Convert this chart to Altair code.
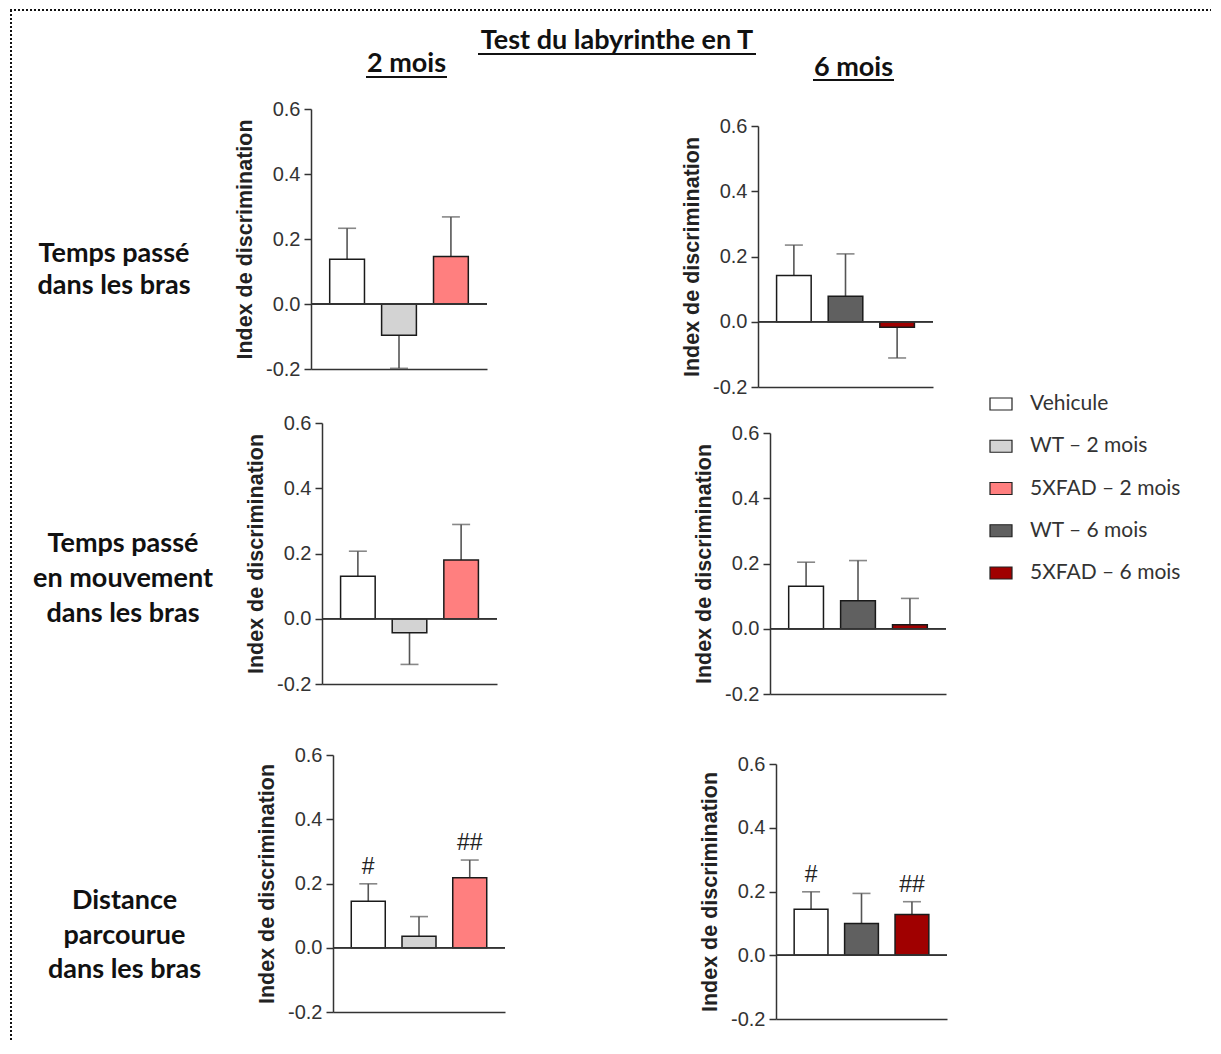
import altair as alt
import pandas as pd

# ---------------- data ----------------
groups_2m = ["Vehicule", "WT – 2 mois", "5XFAD – 2 mois"]
groups_6m = ["Vehicule", "WT – 6 mois", "5XFAD – 6 mois"]
colors_2m = ["#ffffff", "#d3d3d3", "#ff7f7f"]
colors_6m = ["#ffffff", "#606060", "#a00000"]

temps_2m = [0.138, -0.096, 0.146]
temps_2m_sem = [0.095, 0.102, 0.122]
temps_6m = [0.142, 0.078, -0.017]
temps_6m_sem = [0.093, 0.130, 0.094]

mouv_2m = [0.130, -0.043, 0.180]
mouv_2m_sem = [0.077, 0.097, 0.109]
mouv_6m = [0.130, 0.086, 0.012]
mouv_6m_sem = [0.074, 0.123, 0.081]

dist_2m = [0.145, 0.036, 0.218]
dist_2m_sem = [0.054, 0.061, 0.055]
dist_6m = [0.144, 0.100, 0.128]
dist_6m_sem = [0.055, 0.094, 0.040]

no_sig = ["", "", ""]
dist_2m_sig = ["#", "", "##"]
dist_6m_sig = ["#", "", "##"]

y_ticks = [-0.2, 0.0, 0.2, 0.4, 0.6]
y_title = "Index de discrimination"
main_title = "Test du labyrinthe en T"
col_titles = ["2 mois", "6 mois"]
row_titles = [
    ["Temps passé", "dans les bras"],
    ["Temps passé", "en mouvement", "dans les bras"],
    ["Distance", "parcourue", "dans les bras"],
]
legend_labels = ["Vehicule", "WT – 2 mois", "5XFAD – 2 mois", "WT – 6 mois", "5XFAD – 6 mois"]
legend_colors = ["#ffffff", "#d3d3d3", "#ff7f7f", "#606060", "#a00000"]

# ---------------- style / layout ----------------
AX = "#333333"
ERR = "#555555"
HEAD_FONT = "Lato"
AXIS_FONT = "Liberation Sans"
W, H = 1205, 1034
one = pd.DataFrame({"k": [0]})

# panel plot rectangles (content coords): x, y(top), w, h
P = {
    1: (303, 101, 176, 260),
    2: (750, 118, 175, 261),
    3: (314, 415, 175, 261),
    4: (762, 425, 176, 261),
    5: (325, 747, 172, 257),
    6: (768, 756, 171, 255),
}


def panel(groups, vals, sems, colors, sig, rect):
    x0, yt, w, h = rect
    yb = yt + h
    df = pd.DataFrame({"group": groups, "value": vals, "sem": sems, "color": colors, "sig": sig})
    base = alt.Chart(df).transform_calculate(
        end="datum.value + (datum.value < 0 ? -datum.sem : datum.sem)"
    )
    x = alt.X(
        "group:N",
        sort=groups,
        scale=alt.Scale(range=[x0, x0 + w], paddingInner=0.33, paddingOuter=0.36),
        axis=alt.Axis(orient="bottom", offset=-(H - yb), labels=False, ticks=False,
                      title=None, domainColor=AX, domainWidth=1.5, grid=False),
    )
    ys = alt.Scale(domain=[-0.2, 0.6], range=[yb, yt], nice=False, zero=False)
    ya = alt.Axis(
        orient="left", offset=-x0,
        values=y_ticks,
        labelExpr="datum.value < 0 ? '-' + format(-datum.value, '.1f') : format(datum.value, '.1f')",
        title=y_title,
        titleFont=AXIS_FONT, titleFontSize=21.5, titleFontWeight="bold", titleColor="#222222",
        titlePadding=9,
        labelFont=AXIS_FONT, labelFontSize=20, labelColor="#333333", labelPadding=4,
        tickSize=7, tickWidth=1.5, tickColor=AX,
        domainColor=AX, domainWidth=1.5, grid=False,
    )
    err = base.mark_rule(color=ERR, strokeWidth=1.6).encode(
        x=x, y=alt.Y("value:Q", scale=ys, axis=ya), y2="end:Q")
    bars = base.mark_bar(stroke="#1a1a1a", strokeWidth=1.5).encode(
        x=x, y=alt.Y("value:Q", scale=ys, axis=ya), y2=alt.datum(0),
        fill=alt.Fill("color:N", scale=None))
    zero = base.mark_rule(color=AX, strokeWidth=1.5).encode(
        x=alt.value(x0), x2=alt.value(x0 + w), y=alt.datum(0))
    caps = base.mark_tick(color=ERR, thickness=1.6, size=18).encode(
        x=x, y=alt.Y("end:Q", scale=ys, axis=ya))
    txt = base.transform_filter("datum.sig != ''").mark_text(
        font=AXIS_FONT, fontSize=23, color="#222222", baseline="middle", dy=-17
    ).encode(x=x, y=alt.Y("end:Q", scale=ys, axis=ya), text="sig:N")
    return alt.layer(err, bars, zero, caps, txt)


def text_layer(text, x, y, size, weight="bold", color="#111111", align="center", lh=None, font=HEAD_FONT):
    kw = dict(text=text, font=font, fontSize=size, fontWeight=weight, color=color,
              align=align, baseline="alphabetic")
    if lh:
        kw["lineHeight"] = lh
    return alt.Chart(one).mark_text(**kw).encode(x=alt.value(x), y=alt.value(y))


def seg(x1, x2, y1, y2, width=2, dash=None):
    kw = dict(color="#111111", strokeWidth=width)
    if dash:
        kw["strokeDash"] = dash
    return alt.Chart(one).mark_rule(**kw).encode(
        x=alt.value(x1), x2=alt.value(x2), y=alt.value(y1), y2=alt.value(y2))


# ---------------- decorations (titles, row labels, legend, border) ----------------
leg_df = pd.DataFrame({"label": legend_labels, "color": legend_colors})
leg_y = alt.Y("label:N", sort=legend_labels, axis=None,
              scale=alt.Scale(type="point", range=[396, 565], padding=0))
leg_sw = alt.Chart(leg_df).mark_point(
    shape="M-1,-0.545H1V0.545H-1Z", size=484, filled=True, opacity=1,
    stroke="#222222", strokeWidth=1.2
).encode(x=alt.value(993), y=leg_y, fill=alt.Fill("color:N", scale=None))
leg_tx = alt.Chart(leg_df).mark_text(
    font=HEAD_FONT, fontSize=21, color="#333333", align="left", baseline="middle"
).encode(x=alt.value(1022), y=leg_y, text="label:N")
legend = alt.layer(leg_sw, leg_tx)

deco = alt.layer(
    seg(2, 1203, 2, 2, dash=[2, 2]),
    seg(3, 3, 2, H, dash=[2, 2]),
    text_layer(main_title, 609, 41, 27),
    seg(470, 748, 46, 46),
    text_layer(col_titles[0], 398.5, 64, 27),
    seg(358, 439, 69, 69),
    text_layer(col_titles[1], 845.5, 68, 27),
    seg(805, 886, 72, 72),
    text_layer(row_titles[0], 106, 254, 27, lh=32),
    text_layer(row_titles[1], 115, 544, 27, lh=35),
    text_layer(row_titles[2], 116.5, 901, 27, lh=34.5),
)

# ---------------- panels ----------------
p1 = panel(groups_2m, temps_2m, temps_2m_sem, colors_2m, no_sig, P[1])
p2 = panel(groups_6m, temps_6m, temps_6m_sem, colors_6m, no_sig, P[2])
p3 = panel(groups_2m, mouv_2m, mouv_2m_sem, colors_2m, no_sig, P[3])
p4 = panel(groups_6m, mouv_6m, mouv_6m_sem, colors_6m, no_sig, P[4])
p5 = panel(groups_2m, dist_2m, dist_2m_sem, colors_2m, dist_2m_sig, P[5])
p6 = panel(groups_6m, dist_6m, dist_6m_sem, colors_6m, dist_6m_sig, P[6])

chart = (
    alt.layer(deco, p1, p2, p3, p4, p5, p6, legend)
    .resolve_scale(x="independent", y="independent")
    .resolve_axis(x="independent", y="independent")
    .properties(width=W, height=H, padding=0)
    .configure_view(strokeWidth=0)
)

chart.save("out.html", embed_options={"renderer": "svg", "actions": False})
